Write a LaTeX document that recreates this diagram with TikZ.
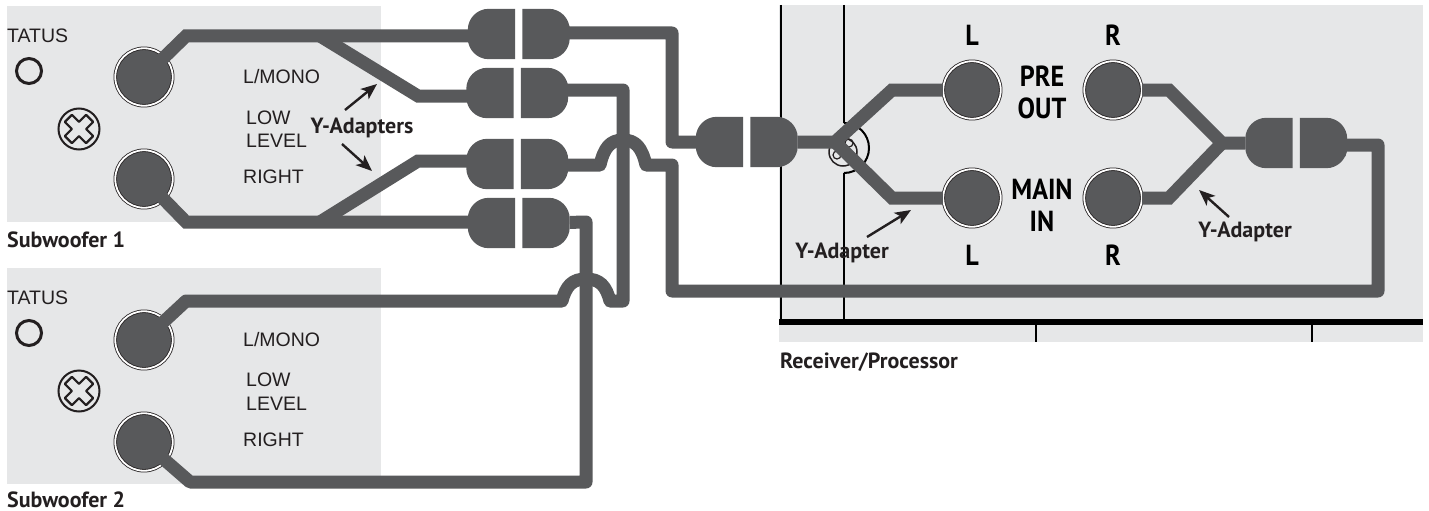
\documentclass[tikz,border=0pt]{standalone}
\usepackage{fontspec}
\setmainfont{Liberation Sans}
\newfontfamily\tagfont{PT Sans}
\newfontfamily\jackfont{PT Sans}[FakeStretch=0.9]
\usetikzlibrary{arrows.meta,positioning}
\definecolor{wiregray}{HTML}{58595B}
\definecolor{panelgray}{HTML}{E6E7E8}
\definecolor{inkblack}{HTML}{231F20}

\begin{document}
\begin{tikzpicture}[x=1pt,y=-1pt,on grid,node distance=54.5pt,
    panel/.style={fill=panelgray},
    jack/.style={circle,draw=inkblack,fill=wiregray,line width=.8pt,double=white,double distance=1.8pt,minimum size=57.5pt,inner sep=0pt},
    plugbox/.style={rectangle,minimum width=47pt,minimum height=50pt,inner sep=0pt},
    plugl/.style={plugbox,append after command={\pgfextra{\fill[wiregray,rounded corners=21pt]
      (\tikzlastnode.north east) -- (\tikzlastnode.north west) -- (\tikzlastnode.south west) [sharp corners] -- (\tikzlastnode.south east) -- cycle;}}},
    plugr/.style={plugbox,append after command={\pgfextra{\fill[wiregray,rounded corners=21pt]
      (\tikzlastnode.north west) -- (\tikzlastnode.north east) -- (\tikzlastnode.south east) [sharp corners] -- (\tikzlastnode.south west) -- cycle;}}},
    ledring/.style={circle,draw=inkblack,line width=3pt,minimum size=25pt,inner sep=0pt},
    screw/.style={circle,draw=inkblack,line width=2pt,minimum size=41pt,inner sep=0pt},
    wire/.style={draw=wiregray,line width=13pt},
    run/.style={wire,line join=round},
    edgeline/.style={draw=black,line width=2pt},
    lbl/.style={anchor=west,inner sep=0pt,text=inkblack,font=\fontsize{19.5}{19.5}\selectfont},
    tag/.style={inner sep=0pt,text=inkblack,font=\fontsize{22}{22}\selectfont\tagfont\bfseries},
    jacklbl/.style={inner sep=0pt,text=black,align=center,font=\fontsize{29}{32}\selectfont\jackfont\bfseries},
    pointer/.style={draw=inkblack,line width=2.4pt,-{Stealth[length=16pt,width=13pt,inset=4pt]}}]
  \useasboundingbox (0,0) rectangle (1429,511);

  % panels
  \fill[panel] (7,6) rectangle (381,222);
  \fill[panel] (7,268) rectangle (381,484);
  \fill[panel] (779,5) rectangle (1423,342);

  % receiver edges and the knob behind the wires
  \draw[edgeline] (781,5) -- (781,322);
  \draw[edgeline] (844,5) -- (844,123);
  \draw[edgeline] (844,173) -- (844,322);
  \draw[line width=6.5pt] (779,322) -- (1423,322);
  \draw[edgeline] (1036,322) -- (1036,342);
  \draw[edgeline] (1312,322) -- (1312,342);
  \draw[edgeline] (844,123) arc (-90:90:25);
  \draw[inkblack,line width=1.5pt] (843,152) circle (14);
  \draw[inkblack,line width=1.2pt] (849,143) circle (4);
  \draw[inkblack,line width=1.2pt] (837,155) circle (4);

  % subwoofers
  \node[jack]     (jack_1)  at (144,77)                      {};
  \node[jack]     (jack_2)  [below of = jack_1,node distance=102pt] {};
  \node[jack]     (jack_3)  at (144,340)                     {};
  \node[jack]     (jack_4)  [below of = jack_3,node distance=102pt] {};
  \node[ledring]  (led_1)   at (29,71)                       {};
  \node[ledring]  (led_2)   at (29,333)                      {};
  \node[screw]    (screw_1) at (79,129)                      {};
  \node[screw]    (screw_2) at (79,391)                      {};
  \foreach \s in {screw_1,screw_2}
    \draw[inkblack,line width=2.2pt,line join=round,shift={(\s)},rotate=45]
      (-5,-15) -- (5,-15) -- (5,-5) -- (15,-5) -- (15,5) -- (5,5) -- (5,15) -- (-5,15)
      -- (-5,5) -- (-15,5) -- (-15,-5) -- (-5,-5) -- cycle;

  % receiver jacks
  \node[jack]     (pre_l)   at (972,90)                      {};
  \node[jack]     (pre_r)   at (1113,90)                     {};
  \node[jack]     (main_l)  at (972,198)                     {};
  \node[jack]     (main_r)  at (1113,198)                    {};

  % plugs
  \node[plugl]    (plug_1l) at (491.5,34)                    {};
  \node[plugr]    (plug_1r) [right of = plug_1l]             {};
  \node[plugl]    (plug_2l) at (490,93)                      {};
  \node[plugr]    (plug_2r) [right of = plug_2l]             {};
  \node[plugl]    (plug_3l) at (490,164)                     {};
  \node[plugr]    (plug_3r) [right of = plug_3l]             {};
  \node[plugl]    (plug_4l) at (491.5,223)                   {};
  \node[plugr]    (plug_4r) [right of = plug_4l]             {};
  \node[plugl]    (plug_5l) at (719.5,142)                   {};
  \node[plugr]    (plug_5r) [right of = plug_5l]             {};
  \node[plugl]    (plug_6l) at (1269,143)                    {};
  \node[plugr]    (plug_6r) [right of = plug_6l]             {};

  \coordinate (split_a) at (320,36);
  \coordinate (split_b) at (320,222);
  \coordinate (split_c) at (835,142);
  \coordinate (split_d) at (1222,143);

  % Y-adapters
  \draw[wire] (jack_1.center) -- (186,36) -- (470,36) -- (plug_1l);
  \draw[wire] (split_a) -- (418,96) -- (470,96) -- (plug_2l);
  \draw[wire] (jack_2.center) -- (186,222) -- (470,222) -- (plug_4l);
  \draw[wire] (split_b) -- (418,161) -- (470,161) -- (plug_3l);
  \draw[wire] (plug_5r) -- (split_c) -- (892,90) -- (pre_l);
  \draw[wire] (split_c) -- (892,198) -- (main_l);
  \draw[wire] (pre_r) -- (1169,90) -- (split_d) -- (plug_6l);
  \draw[wire] (main_r) -- (1169,198) -- (split_d);

  % long runs
  \draw[run] (plug_1r) -- (560,33) -- (672,33) -- (672,142) -- (plug_5l);
  \draw[run] (plug_2r) -- (560,90) -- (623,90) -- (623,301) -- (610,301)
    .. controls (606,286) and (600,279) .. (586,279)
    .. controls (572,279) and (566,286) .. (562,301) -- (186,301) -- (jack_3.center);
  \draw[run] (plug_3r) -- (560,165) -- (600,165)
    .. controls (604,148) and (610,140) .. (623,140)
    .. controls (636,140) and (642,148) .. (646,165) -- (672,165) -- (672,291) -- (1378,291)
    -- (1378,145) -- (1330,145) -- (plug_6r);
  \draw[run] (plug_4r) -- (586,222) -- (586,482) -- (190,482) -- (jack_4.center);

  % texts
  \node[lbl] (status_1) at (7,36)    {TATUS};
  \node[lbl] (mono_1)   at (243,77)  {L/MONO};
  \node[lbl] (low_1)    at (246,118) {LOW};
  \node[lbl] (level_1)  at (246,141) {LEVEL};
  \node[lbl] (right_1)  at (243,177) {RIGHT};
  \node[lbl] (status_2) at (7,298)   {TATUS};
  \node[lbl] (mono_2)   at (243,340) {L/MONO};
  \node[lbl] (low_2)    at (246,380) {LOW};
  \node[lbl] (level_2)  at (246,404) {LEVEL};
  \node[lbl] (right_2)  at (243,440) {RIGHT};
  \node[tag,anchor=west] (sub_1) at (7,240)   {Subwoofer 1};
  \node[tag,anchor=west] (sub_2) at (7,500)   {Subwoofer 2};
  \node[tag,anchor=west] (recv)  at (780,362) {Receiver/Processor};
  \node[tag] (tag_y)  at (362,128)  {Y-Adapters};
  \node[tag] (tag_yl) at (842,253)  {Y-Adapter};
  \node[tag] (tag_yr) at (1245,232) {Y-Adapter};

  \node[jacklbl] (txt_l1) at (972,35)   {L};
  \node[jacklbl] (txt_r1) at (1113,35)  {R};
  \node[jacklbl] (txt_l2) at (972,255)  {L};
  \node[jacklbl] (txt_r2) at (1113,255) {R};
  \node[jacklbl] (txt_pre)  at (1042,92)  {PRE\\OUT};
  \node[jacklbl] (txt_main) at (1042,205) {MAIN\\IN};

  % pointers
  \coordinate (ptr_a) at (345,110);  \coordinate (tip_a) at (377,84);
  \coordinate (ptr_b) at (342,144);  \coordinate (tip_b) at (372,171);
  \coordinate (ptr_c) at (867,237);  \coordinate (tip_c) at (911,210);
  \coordinate (ptr_d) at (1229,217); \coordinate (tip_d) at (1199,190);
  \draw[pointer] (ptr_a) -- (tip_a);
  \draw[pointer] (ptr_b) -- (tip_b);
  \draw[pointer] (ptr_c) -- (tip_c);
  \draw[pointer] (ptr_d) -- (tip_d);
\end{tikzpicture}
\end{document}
